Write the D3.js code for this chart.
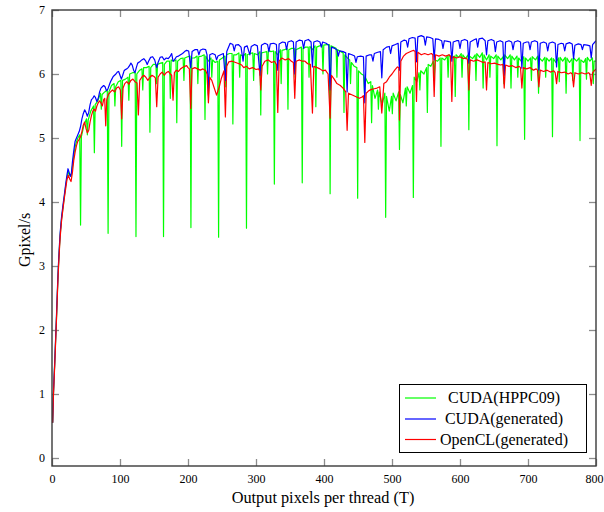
<!DOCTYPE html>
<html><head><meta charset="utf-8">
<script src="https://cdn.jsdelivr.net/npm/d3@7"></script>
<style>
html,body{margin:0;padding:0;background:#fff;}
svg{display:block;}
text{font-family:"Liberation Serif","Times New Roman",serif;fill:#000;}
</style></head><body>
<svg id="chart" width="604" height="512"></svg>
<script>
const seriesNames = ["CUDA(HPPC09)", "CUDA(generated)", "OpenCL(generated)"];
const seriesColors = ["#00ff00", "#0000ff", "#ff0000"];
const xTicks = [0, 100, 200, 300, 400, 500, 600, 700, 800];
const yTicks = [0, 1, 2, 3, 4, 5, 6, 7];
const xTitle = "Output pixels per thread (T)";
const yTitle = "Gpixel/s";

const cudaHppc09 = [
[1,0.55],[2,0.97],[3,1.23],[4,1.48],[5,1.75],[6,2.02],[7,2.3],[8,2.6],[9,2.88],[10,3.1],[11,3.3],[12,3.48],[14,3.73],[16,3.9],[18,4.07],[20,4.24],[22,4.38],[24,4.47],[26,4.42],[28,4.4],[30,4.55],[32,4.72],[34,4.86],[36,4.94],[38,5.0],
[40.8,5.05],[42,3.64],[43.2,5.02],[47,5.2],
[50.8,5.3],[52,5.05],[53.2,5.28],[57,5.42],
[61.1,5.5],[62.3,4.77],[63.5,5.52],[67.5,5.58],
[71.3,5.7],[72.5,5.45],[73.7,5.68],[77.5,5.72],
[81.3,5.75],[82.5,3.51],[83.7,5.72],[87.5,5.82],
[91.3,5.85],[92.5,5.5],[93.7,5.8],[97.5,5.88],
[101.3,5.9],[102.5,4.87],[103.7,5.9],[108,5.92],
[111.8,5.95],[113,5.59],[114.2,6.0],[118.5,6.02],
[122.3,6.02],[123.5,3.46],[124.7,6.0],[129,6.06],
[132.3,6.08],[133.5,5.75],[134.7,6.1],[139,6.1],
[142.8,6.12],[144,5.09],[145.2,6.1],[149,6.15],
[152.8,6.15],[154,5.85],[155.2,6.15],[159.5,6.17],
[162.8,6.18],[164,3.46],[165.2,6.15],[169,6.2],
[172.8,6.2],[174,5.62],[175.2,6.22],[179,6.2],
[182.3,6.22],[183.5,5.24],[184.7,6.2],[189,6.24],
[192.8,6.25],[194,5.9],[195.2,6.25],[199.5,6.27],
[203.1,6.28],[204.3,3.6],[205.5,6.25],[209.5,6.25],
[213.3,6.28],[214.5,5.85],[215.7,6.27],[220,6.28],
[223.8,6.3],[225,5.29],[226.2,6.28],[230,6.2],
[233.8,6.25],[235,5.95],[236.2,6.22],[240,6.18],
[243.8,6.2],[245,3.45],[246.2,6.22],[250.5,6.25],
[254.3,6.28],[255.5,5.8],[256.7,6.3],[261,6.32],
[264.8,6.32],[266,5.22],[267.2,6.3],[271,6.3],
[274.8,6.33],[276,5.95],[277.2,6.3],[281,6.28],
[284.8,6.32],[286,3.59],[287.2,6.3],[291.5,6.32],
[295.3,6.33],[296.5,5.9],[297.7,6.32],[302,6.3],
[305.8,6.35],[307,5.36],[308.2,6.33],[312,6.34],
[315.8,6.35],[317,6.0],[318.2,6.37],[322,6.35],
[325.8,6.36],[327,4.28],[328.2,6.35],[332,6.3],
[335.8,6.38],[337,5.85],[338.2,6.37],[342,6.38],
[345.8,6.4],[347,5.45],[348.2,6.38],[352.5,6.4],
[356.3,6.4],[357.5,5.95],[358.7,6.38],[363,6.4],
[366.8,6.42],[368,4.3],[369.2,6.4],[373,6.42],
[376.8,6.42],[378,5.95],[379.2,6.43],[383,6.38],
[386.8,6.44],[388,5.49],[389.2,6.42],[393.5,6.44],
[397.3,6.45],[398.5,6.0],[399.7,6.45],[404,6.46],
[407.8,6.46],[409,4.13],[410.2,6.44],[414,6.42],
[417.8,6.4],[419,5.95],[420.2,6.38],[424.5,6.35],
[428.2,6.33],[429.4,5.4],[430.6,6.3],[434.5,6.25],
[437.8,6.22],[439,5.85],[440.2,6.18],[444.5,6.12],
[448.3,6.1],[449.5,4.06],[450.7,6.05],[455,6.0],
[458.3,5.98],[459.5,5.7],[460.7,5.95],[465,5.85],
[468.8,5.88],[470,5.24],[471.2,5.82],[475,5.62],
[478.8,5.75],[480,5.45],[481.2,5.72],[485.5,5.52],
[489.5,5.7],[490.7,3.76],[491.9,5.65],[496,5.42],
[499.3,5.65],[500.5,5.38],[501.7,5.7],[506,5.58],
[509.8,5.72],[511,4.82],[512.2,5.68],[516,5.55],
[519.8,5.78],[521,5.5],[522.2,5.8],[526.5,5.7],
[530.2,5.82],[531.4,4.07],[532.6,5.95],[536.5,5.88],
[539.8,6.02],[541,5.75],[542.2,6.05],[547,6.0],
[550.8,6.1],[552,5.4],[553.2,6.15],[557,6.12],
[560.8,6.2],[562,5.9],[563.2,6.22],[567,6.2],
[570.8,6.25],[572,4.87],[573.2,6.25],[577.5,6.22],
[581.3,6.28],[582.5,5.95],[583.7,6.3],[588,6.25],
[591.8,6.28],[593,5.65],[594.2,6.3],[598,6.26],
[601.8,6.32],[603,5.95],[604.2,6.3],[608,6.24],
[611.8,6.3],[613,5.13],[614.2,6.28],[618.5,6.24],
[622.3,6.3],[623.5,5.9],[624.7,6.32],[629,6.26],
[632.8,6.33],[634,5.78],[635.2,6.3],[639,6.22],
[642.8,6.3],[644,5.95],[645.2,6.28],[649.5,6.24],
[653.2,6.3],[654.4,4.88],[655.6,6.28],[660,6.22],
[663.3,6.27],[664.5,5.85],[665.7,6.3],[670,6.24],
[673.8,6.3],[675,5.78],[676.2,6.28],[680,6.22],
[683.8,6.28],[685,5.95],[686.2,6.25],[690,6.2],
[693.8,6.27],[695,4.98],[696.2,6.25],[700,6.2],
[703.8,6.25],[705,5.9],[706.2,6.27],[711,6.22],
[714.3,6.28],[715.5,5.7],[716.7,6.25],[721,6.2],
[724.8,6.26],[726,5.95],[727.2,6.25],[731,6.2],
[734.8,6.25],[736,5.02],[737.2,6.24],[741,6.18],
[744.8,6.25],[746,5.88],[747.2,6.26],[751,6.2],
[754.8,6.26],[756,5.7],[757.2,6.25],[761,6.18],
[764.8,6.24],[766,5.9],[767.2,6.25],[771.5,6.2],
[775.3,6.25],[776.5,4.96],[777.7,6.22],[782,6.18],
[784.8,6.24],[786,5.92],[787.2,6.26],[791,6.2],
[794.8,6.25],[796,5.85],[797.2,6.2],[800,6.2]
];

const cudaGenerated = [
[1,0.55],[2,0.98],[3,1.25],[4,1.5],[5,1.78],[6,2.05],[7,2.35],[8,2.65],[9,2.92],[10,3.14],[11,3.34],[12,3.52],[14,3.76],[16,3.94],[18,4.1],[20,4.27],[22,4.42],[23.5,4.52],[25,4.47],[27,4.4],[28.5,4.45],[30,4.62],[32,4.8],[34,4.95],[36,5.0],[38,5.05],[40,5.1],[42,5.18],[44,5.3],[46,5.38],[48,5.44],[50,5.4],[52,5.34],[54,5.4],[56,5.52],[58,5.6],[60,5.62],[62,5.66],[64,5.63],[66,5.57],[68,5.62],[70,5.72],[72,5.78],[74,5.8],[76,5.82],[78,5.8],[80,5.74],[82,5.76],[84,5.82],[86,5.88],[88,5.92],[90,5.96],[92,5.98],[94,6.0],[96,6.03],[98,6.04],[100,5.98],[102,5.92],[104,5.98],[106,6.05],[108,6.07],[110,6.08],[112,6.1],[114,6.13],[116,6.17],[118,6.14],[120,6.06],[122,6.02],[124,6.1],[126,6.17],[129,6.19],[132,6.22],[135,6.24],[138,6.2],[140,6.15],[142,6.2],[145,6.26],[148,6.27],[151,6.22],[154,6.1],[156,6.18],[159,6.26],[162,6.27],[165,6.22],[168,6.25],[171,6.24],[174,6.28],[176,6.32],[178,6.2],[180,6.22],[183,6.27],[186,6.28],[189,6.3],[192,6.32],[195,6.35],[198,6.37],[201,6.36],[204,6.1],[206,6.35],[210,6.38],[214,6.38],[216,6.3],[218,6.37],[222,6.39],[226,6.38],[228,6.3],[230,5.67],[232,6.3],[236,6.32],[240,6.3],[242,6.22],[244,6.28],[248,6.3],[252,6.32],[255,5.9],[257,6.35],[262,6.48],[266,6.46],[268,6.36],[270,6.45],[274,6.46],[278,6.42],[281,6.2],[283,6.42],[287,6.44],[291,6.3],[293,6.43],[298,6.46],[302,6.44],[306,5.98],[308,6.45],[313,6.48],[317,6.46],[319,6.35],[321,6.47],[326,6.48],[330,6.46],[332,6.06],[334,6.47],[339,6.5],[343,6.49],[345,6.38],[347,6.5],[352,6.52],[355,6.5],[357,6.0],[359,6.5],[364,6.53],[368,6.52],[370,6.4],[372,6.52],[377,6.54],[381,6.5],[383,6.11],[385,6.5],[390,6.52],[394,6.5],[396,6.42],[398,6.5],[403,6.48],[407,6.45],[409,5.75],[411,6.42],[416,6.4],[419,6.38],[421,6.28],[423,6.36],[428,6.35],[432,6.33],[434,5.72],[436,6.32],[441,6.3],[445,6.28],[447,6.18],[449,6.27],[454,6.28],[458,6.27],[460,5.55],[462,6.28],[467,6.3],[470,6.3],[472,6.2],[474,6.32],[479,6.34],[483,6.35],[485,5.94],[487,6.38],[492,6.42],[496,6.43],[498,6.32],[500,6.44],[505,6.46],[509,6.48],[511,6.06],[513,6.5],[518,6.53],[521,6.52],[523,6.42],[525,6.55],[530,6.57],[534,6.56],[536,6.19],[538,6.58],[543,6.6],[547,6.58],[549,6.45],[551,6.58],[556,6.57],[560,6.55],[562,6.22],[564,6.55],[569,6.54],[573,6.52],[575,6.4],[577,6.52],[582,6.51],[586,6.5],[588,6.2],[590,6.5],[595,6.52],[598,6.52],[600,6.4],[602,6.52],[607,6.54],[611,6.52],[613,6.17],[615,6.5],[620,6.53],[624,6.55],[626,6.42],[628,6.55],[633,6.56],[637,6.52],[639,6.3],[641,6.52],[646,6.54],[650,6.52],[652,6.35],[654,6.5],[659,6.52],[663,6.5],[665,5.98],[667,6.5],[672,6.52],[676,6.5],[678,6.38],[680,6.5],[685,6.52],[689,6.5],[691,6.09],[693,6.48],[698,6.5],[701,6.5],[703,6.38],[705,6.5],[710,6.52],[714,6.5],[716,6.06],[718,6.48],[723,6.5],[727,6.48],[729,6.36],[731,6.48],[736,6.5],[740,6.48],[742,6.11],[744,6.46],[749,6.48],[752,6.47],[754,6.36],[756,6.47],[761,6.49],[765,6.47],[767,6.24],[769,6.45],[774,6.47],[778,6.46],[780,6.38],[782,6.46],[787,6.45],[791,6.44],[793,6.25],[795,6.46],[800,6.52]
];

const openclGenerated = [
[1,0.55],[2,0.95],[3,1.2],[4,1.45],[5,1.72],[6,2.0],[7,2.28],[8,2.58],[9,2.85],[10,3.07],[11,3.27],[12,3.45],[14,3.7],[16,3.88],[18,4.05],[20,4.2],[22,4.35],[24,4.42],[26,4.36],[28,4.32],[30,4.46],[32,4.65],[34,4.78],[36,4.88],[38,4.95],[40,4.98],[42,5.02],[44,5.1],[46,5.2],[48,5.25],[50,5.15],[52,5.08],[54,5.12],[56,5.25],[58,5.35],[60,5.42],[62,5.45],[64,5.42],[66,5.5],[68,5.55],[70,5.58],[72,5.55],[74,5.5],[76,5.6],[77.5,5.62],[79,5.19],[80.5,5.6],[83,5.68],[86,5.72],[89,5.75],[92,5.72],[95,5.78],[98,5.8],[100.5,5.75],[102.5,5.3],[104.5,5.78],[107,5.85],[110,5.88],[113,5.84],[116,5.9],[119,5.92],[122,5.88],[125,5.86],[127,5.36],[129,5.9],[132,5.95],[135,5.98],[138,5.95],[141,5.9],[144,5.95],[147,5.98],[150,5.96],[152,5.94],[154,5.49],[156,5.95],[159,6.0],[162,6.03],[165,5.98],[168,6.02],[171,6.04],[174,6.0],[176,5.98],[178,5.59],[180,6.02],[183,6.06],[186,6.04],[189,6.08],[192,6.1],[195,6.12],[198,6.13],[200,6.1],[202,6.08],[204,5.46],[206,6.08],[210,6.1],[214,6.08],[218,6.06],[222,6.08],[226,6.05],[228,6.0],[230,5.55],[232,5.95],[235,5.9],[238,5.8],[242,5.67],[246,5.8],[249,5.93],[253,6.05],[255,5.33],[257,6.12],[260,6.19],[265,6.2],[270,6.18],[275,6.16],[279,6.14],[282,6.1],[286,6.12],[290,6.08],[295,6.1],[300,6.07],[304,6.08],[305.5,6.04],[307,5.75],[309,6.12],[313,6.2],[318,6.22],[323,6.18],[327,6.2],[330,6.15],[332,5.4],[334,6.2],[338,6.25],[343,6.22],[348,6.24],[352,6.2],[355,6.18],[357,5.62],[359,6.2],[364,6.22],[368,6.2],[372,6.2],[376,6.16],[380,6.15],[383,5.39],[385,6.12],[390,6.1],[394,6.08],[398,6.05],[402,6.06],[406,6.0],[409,5.31],[411,5.98],[415,5.92],[419,5.85],[424,5.82],[428,5.78],[432,5.72],[434,5.12],[436,5.7],[440,5.68],[444,5.66],[448,5.64],[452,5.62],[456,5.64],[458,5.66],[460,4.93],[462,5.7],[466,5.74],[470,5.76],[474,5.77],[478,5.78],[482,5.8],[485,5.39],[488,5.85],[492,5.88],[496,5.95],[500,6.0],[504,6.06],[508,6.11],[510,6.1],[511,5.28],[513,6.2],[517,6.28],[521,6.32],[525,6.34],[529,6.36],[532,6.37],[534,6.35],[536,5.57],[538,6.34],[543,6.3],[548,6.32],[553,6.3],[558,6.32],[560,6.3],[562,5.65],[564,6.3],[569,6.28],[574,6.3],[579,6.28],[584,6.3],[586,6.28],[588,5.57],[590,6.27],[595,6.25],[600,6.27],[605,6.24],[609,6.25],[611,6.22],[613,5.75],[615,6.22],[620,6.2],[625,6.22],[630,6.2],[634,6.18],[637,6.19],[639,5.75],[641,6.18],[646,6.16],[651,6.17],[656,6.15],[660,6.14],[663,6.15],[665,5.78],[667,6.14],[672,6.12],[677,6.13],[682,6.1],[687,6.12],[689,6.1],[691,5.78],[693,6.1],[698,6.08],[703,6.1],[708,6.06],[712,6.08],[714,6.06],[716,5.8],[718,6.06],[723,6.04],[728,6.06],[733,6.03],[738,6.05],[740,6.02],[742,5.85],[744,6.04],[749,6.02],[754,6.03],[759,6.0],[763,6.02],[765,6.0],[767,5.8],[769,6.02],[774,6.0],[779,6.02],[784,6.0],[789,6.02],[791,6.0],[793,5.82],[795,6.02],[800,6.08]
];

const allSeries = [cudaHppc09, cudaGenerated, openclGenerated];

const svg = d3.select("#chart");
const x = d3.scaleLinear().domain([0, 800]).range([52, 596]);
const y = d3.scaleLinear().domain([-0.125, 7]).range([466, 10]);

svg.append("defs").append("clipPath").attr("id", "plotclip")
  .append("rect").attr("x", 52).attr("y", 10).attr("width", 544).attr("height", 456);

const tickColor = "#8c8c8c";
const fontStack = "Liberation Serif, Times New Roman, serif";
function styleAxis(g, showLabels) {
  g.select(".domain").remove();
  g.attr("font-family", fontStack).attr("font-size", 12);
  g.selectAll(".tick line").attr("stroke", tickColor).attr("stroke-width", 1.3);
  g.selectAll(".tick text").attr("font-size", 12).attr("fill", "#222");
  if (!showLabels) g.selectAll(".tick text").remove();
}

svg.append("g").attr("transform", "translate(0,466)")
  .call(d3.axisBottom(x).tickValues(xTicks).tickSize(-7).tickPadding(8).tickFormat(d3.format("d")))
  .call(g => styleAxis(g, true))
  .call(g => g.selectAll(".tick text").filter(d => d === 800).attr("dx", -2));
svg.append("g").attr("transform", "translate(0,10)")
  .call(d3.axisTop(x).tickValues(xTicks).tickSize(-7))
  .call(g => styleAxis(g, false));
svg.append("g").attr("transform", "translate(52,0)")
  .call(d3.axisLeft(y).tickValues(yTicks).tickSize(-7).tickPadding(7).tickFormat(d3.format("d")))
  .call(g => styleAxis(g, true));
svg.append("g").attr("transform", "translate(596,0)")
  .call(d3.axisRight(y).tickValues(yTicks).tickSize(-7))
  .call(g => styleAxis(g, false));

const line = d3.line().x(d => x(d[0])).y(d => y(d[1]));
const plot = svg.append("g").attr("clip-path", "url(#plotclip)");
allSeries.forEach((s, i) => {
  plot.append("path").datum(s)
    .attr("fill", "none").attr("stroke", seriesColors[i])
    .attr("stroke-width", 1.2).attr("stroke-linejoin", "round")
    .attr("d", line);
});

// frame
svg.append("rect").attr("x", 52).attr("y", 10).attr("width", 544).attr("height", 456)
  .attr("fill", "none").attr("stroke", "#3a3a3a").attr("stroke-width", 1.4);

// axis titles
svg.append("text").attr("x", 323).attr("y", 503).attr("text-anchor", "middle")
  .attr("font-size", 16.3).text(xTitle);
svg.append("text").attr("transform", "translate(25,240) rotate(-90)")
  .attr("text-anchor", "middle").attr("dy", "0.33em").attr("font-size", 16).text(yTitle);

// legend
const leg = svg.append("g");
leg.append("rect").attr("x", 399.5).attr("y", 384.5).attr("width", 187).attr("height", 68)
  .attr("fill", "#fff").attr("stroke", "#000").attr("stroke-width", 1);
const rowY = [398, 419, 439.5];
seriesNames.forEach((n, i) => {
  leg.append("line").attr("x1", 405).attr("x2", 436).attr("y1", rowY[i]).attr("y2", rowY[i])
    .attr("stroke", seriesColors[i]).attr("stroke-width", 1.2);
  leg.append("text").attr("x", 504).attr("y", rowY[i]).attr("dy", "0.33em")
    .attr("text-anchor", "middle").attr("font-size", 16).text(n);
});
</script>
</body></html>
